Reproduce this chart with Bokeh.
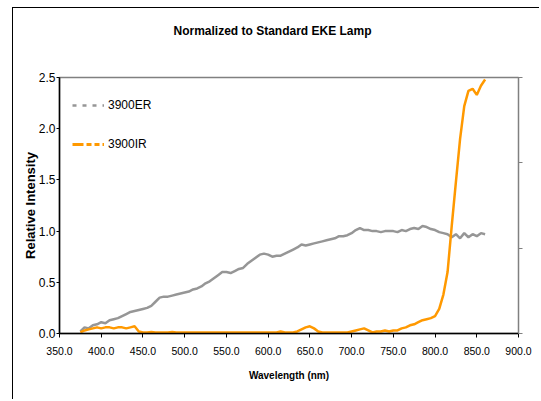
from bokeh.plotting import figure
from bokeh.models import (Range1d, LinearAxis, FixedTicker, NumeralTickFormatter,
                          Legend, LegendItem, CustomJSTickFormatter, Title)
from bokeh.embed import file_html
from bokeh.resources import INLINE

# ---------------- data ----------------
wavelength = list(range(375, 865, 5))

er_3900 = [
    0.02, 0.06, 0.05, 0.08, 0.09, 0.11, 0.10, 0.13, 0.14, 0.15,
    0.17, 0.19, 0.21, 0.22, 0.23, 0.24, 0.25, 0.27, 0.31, 0.35,
    0.36, 0.36, 0.37, 0.38, 0.39, 0.40, 0.41, 0.43, 0.44, 0.46,
    0.49, 0.51, 0.54, 0.57, 0.60, 0.60, 0.59, 0.61, 0.63, 0.64,
    0.68, 0.71, 0.74, 0.77, 0.78, 0.77, 0.75, 0.76, 0.76, 0.78,
    0.80, 0.82, 0.84, 0.87, 0.86, 0.87, 0.88, 0.89, 0.90, 0.91,
    0.92, 0.93, 0.95, 0.95, 0.96, 0.98, 1.01, 1.03, 1.01, 1.01,
    1.00, 1.00, 0.99, 1.00, 1.00, 1.00, 0.99, 1.01, 1.00, 1.02,
    1.03, 1.02, 1.05, 1.04, 1.02, 1.01, 0.99, 0.98, 0.97, 0.94,
    0.97, 0.93, 0.98, 0.94, 0.97, 0.95, 0.98, 0.97,
]

ir_3900 = [
    0.01, 0.03, 0.04, 0.05, 0.06, 0.05, 0.06, 0.06, 0.05, 0.06,
    0.06, 0.05, 0.06, 0.07, 0.02, 0.01, 0.01, 0.015, 0.01, 0.01,
    0.01, 0.01, 0.015, 0.01, 0.01, 0.01, 0.01, 0.01, 0.01, 0.01,
    0.01, 0.01, 0.01, 0.01, 0.01, 0.01, 0.01, 0.01, 0.01, 0.01,
    0.01, 0.01, 0.01, 0.01, 0.01, 0.01, 0.01, 0.01, 0.02, 0.01,
    0.01, 0.01, 0.02, 0.04, 0.06, 0.07, 0.05, 0.02, 0.01, 0.01,
    0.01, 0.01, 0.01, 0.01, 0.01, 0.02, 0.03, 0.04, 0.05, 0.03,
    0.01, 0.02, 0.02, 0.03, 0.02, 0.03, 0.03, 0.05, 0.06, 0.08,
    0.09, 0.11, 0.13, 0.14, 0.15, 0.17, 0.24, 0.38, 0.60, 1.05,
    1.48, 1.90, 2.22, 2.37, 2.39, 2.33, 2.42, 2.48,
]

series_names = ["3900ER", "3900IR"]
chart_title = "Normalized to Standard EKE Lamp"
x_ticks = [350, 400, 450, 500, 550, 600, 650, 700, 750, 800, 850, 900]
y_ticks = [0.0, 0.5, 1.0, 1.5, 2.0, 2.5]

GRAY = "#969696"
ORANGE = "#FF9900"
FONT = "Liberation Sans"

# ---------------- figure ----------------
p = figure(width=527, height=392,
           x_range=Range1d(350, 900), y_range=Range1d(0, 2.5),
           output_backend="svg", toolbar_location=None,
           min_border_left=46, min_border_right=22,
           min_border_top=69, min_border_bottom=67,
           background_fill_color="white", border_fill_color="white")
p.styles = {"margin-left": "12px", "margin-top": "7px",
            "border-left": "1px solid black", "border-top": "1px solid black"}

p.xgrid.visible = False
p.ygrid.visible = False
p.outline_line_color = "#808080"
p.outline_line_width = 1.5

# spacing block between frame and title (nearest to the frame)
p.add_layout(Title(text=" ", text_font_size="1px", standoff=37), "above")

p.title.text = chart_title
p.title.align = "left"
p.title.offset = 114
p.title.standoff = 0
p.title.text_font = FONT
p.title.text_font_size = "12px"
p.title.text_font_style = "bold"
p.title.text_color = "black"

# x axis
xa = p.xaxis[0]
xa.ticker = FixedTicker(ticks=x_ticks)
xa.formatter = NumeralTickFormatter(format="0.0")
xa.axis_label = "Wavelength (nm)"
xa.axis_label_text_font = FONT
xa.axis_label_text_font_size = "10px"
xa.axis_label_text_font_style = "bold"
xa.axis_label_text_color = "black"
xa.axis_label_standoff = 12
xa.major_label_text_font = FONT
xa.major_label_text_font_size = "10.5px"
xa.major_label_text_color = "black"
xa.major_label_standoff = 9
xa.major_tick_in = 0
xa.major_tick_out = 4
xa.minor_tick_line_color = None
xa.axis_line_color = "black"
xa.axis_line_width = 1.5
xa.major_tick_line_color = "black"

# y axis
ya = p.yaxis[0]
ya.ticker = FixedTicker(ticks=y_ticks)
ya.formatter = NumeralTickFormatter(format="0.0")
ya.axis_label = "Relative Intensity"
ya.axis_label_text_font = FONT
ya.axis_label_text_font_size = "13px"
ya.axis_label_text_font_style = "bold"
ya.axis_label_text_color = "black"
ya.axis_label_standoff = -2
ya.major_label_text_font = FONT
ya.major_label_text_font_size = "12px"
ya.major_label_text_color = "black"
ya.major_label_standoff = 1
ya.major_tick_in = 0
ya.major_tick_out = 3
ya.minor_tick_line_color = None
ya.axis_line_color = "black"
ya.axis_line_width = 1.5
ya.major_tick_line_color = "black"

# right axis (ticks only)
ra = LinearAxis(ticker=FixedTicker(ticks=[0.0, 2.5 / 3, 5.0 / 3, 2.5]),
                formatter=CustomJSTickFormatter(code="return ''"),
                axis_line_color="#808080", major_tick_line_color="#808080",
                major_tick_in=0, major_tick_out=4, minor_tick_line_color=None)
p.add_layout(ra, "right")

# data lines
p.line(wavelength, er_3900, line_color=GRAY, line_width=2.5)
p.line(wavelength, ir_3900, line_color=ORANGE, line_width=2.5)

# legend proxies (styled like the original legend), drawn outside the visible range
leg_er = p.line([0, 1], [-1, -1], line_color=GRAY, line_width=2.5, line_dash="4 6")
leg_ir = p.line([0, 1], [-1, -1], line_color=ORANGE, line_width=3,
                line_dash="11 3 5 3 5 3")

legend = Legend(items=[LegendItem(label=series_names[0], renderers=[leg_er]),
                       LegendItem(label=series_names[1], renderers=[leg_ir])],
                location=(13, 179), border_line_color=None,
                background_fill_alpha=0, glyph_width=32, glyph_height=20,
                spacing=19, padding=0, margin=0, label_standoff=4,
                label_text_font=FONT, label_text_font_size="12px",
                label_text_color="black")
p.add_layout(legend)

open("out.html", "w").write(file_html(p, INLINE))
